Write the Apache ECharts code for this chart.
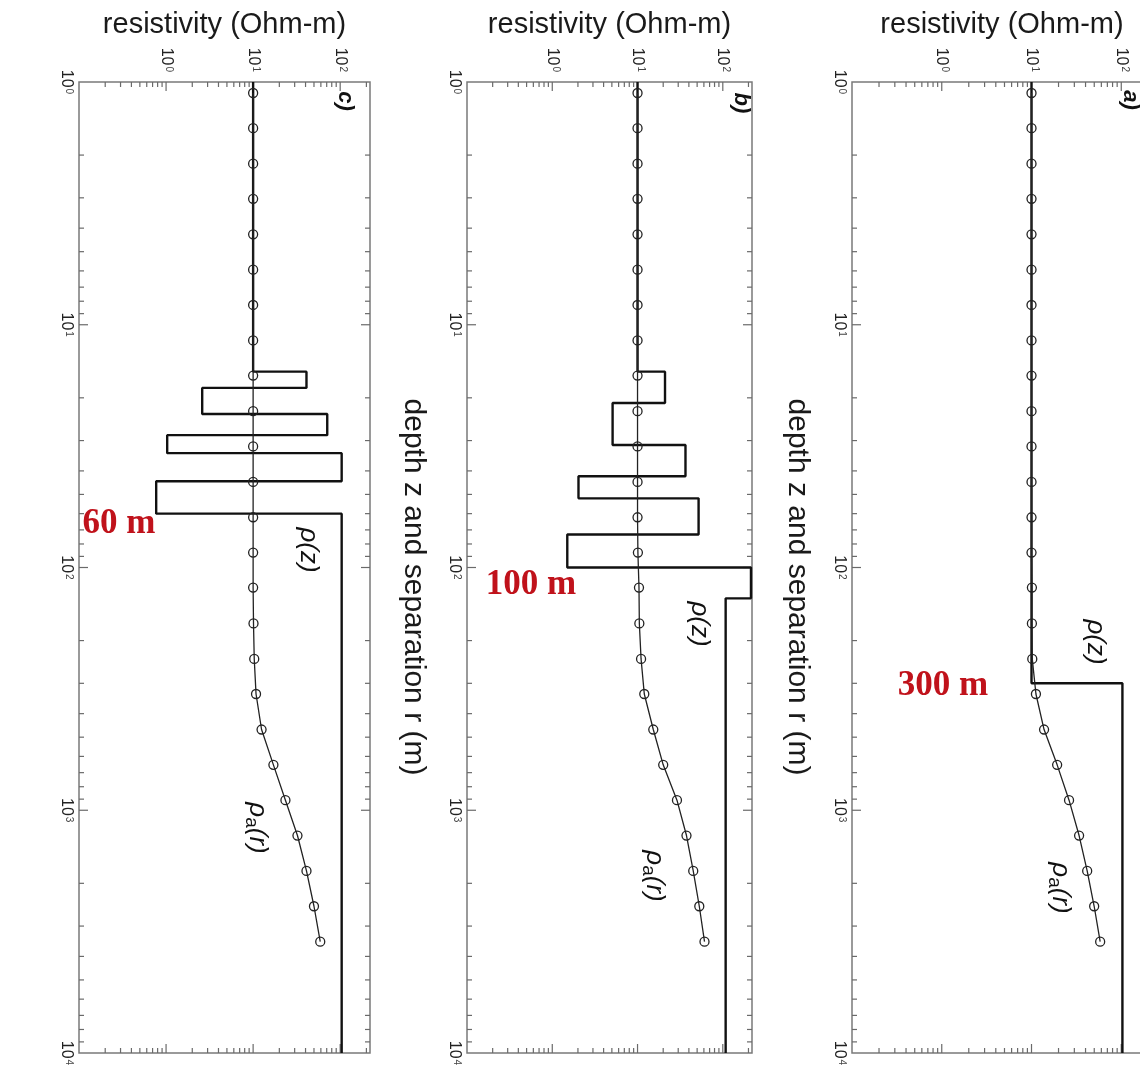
<!DOCTYPE html>
<html>
<head>
<meta charset="utf-8">
<script src="https://cdn.jsdelivr.net/npm/echarts@6/dist/echarts.min.js"></script>
<style>
html, body { margin: 0; padding: 0; background: #fff; }
#chart { width: 1140px; height: 1068px; }
</style>
</head>
<body>
<div id="chart"></div>
<script>
// 电极间距 r (m)，三幅图共用
const separations = [1.11, 1.55, 2.17, 3.03, 4.24, 5.93, 8.29, 11.6, 16.2, 22.7, 31.7, 44.4,
  62.1, 86.8, 121, 170, 238, 332, 465, 650, 909, 1271, 1778, 2486, 3477];

// 视电阻率 rho_a(r)
const rhoAppC = [10, 10, 10, 10, 10, 10, 10, 10, 10, 10, 10, 10, 10, 10, 10, 10.1, 10.3, 10.8,
  12.5, 17.1, 23.5, 32.3, 41, 50, 59];
const rhoAppB = [10, 10, 10, 10, 10, 10, 10, 10, 10, 10, 10, 10, 10, 10.1, 10.4, 10.5, 11, 12,
  15.3, 20, 29, 37.5, 45, 53, 61];
const rhoAppA = [10, 10, 10, 10, 10, 10, 10, 10, 10, 10, 10, 10, 10, 10, 10.1, 10.1, 10.2, 11.2,
  13.8, 19.3, 26.2, 33.9, 41.7, 49.9, 58.2];

// 模型 rho(z)：层界深度 + 各层电阻率（最后一个为半空间）
const layerDepthC = [15.6, 18.2, 23.3, 28.5, 33.8, 44.1, 60];
const layerRhoC = [10, 41, 2.6, 71, 1.03, 104, 0.77, 104];
const layerDepthB = [15.6, 21.0, 31.3, 42.1, 51.9, 73.1, 100, 134];
const layerRhoB = [10, 21, 5.1, 36.5, 2.03, 52, 1.5, 214, 108];
const layerDepthA = [300];
const layerRhoA = [10, 103];

// 坐标轴范围与刻度
const depthRange = [1, 10000];
const rhoRange = [0.1, 220];
const majorRho = [1, 10, 100];
const majorDepth = [10, 100, 1000];
const minorMantissa = [2, 3, 4, 5, 6, 7, 8, 9];
const rhoDecades = [0.1, 1, 10, 100];
const depthDecades = [1, 10, 100, 1000];

const panels = [
  { name: 'c)', app: rhoAppC, depths: layerDepthC, rhos: layerRhoC, grid: { left: 79, top: 82, width: 291, height: 971 },
    mark: '60 m', markPos: [119, 524], rhoLbl: [308, 550], appLbl: [257, 828], tagPos: [345, 101], depthTitle: null },
  { name: 'b)', app: rhoAppB, depths: layerDepthB, rhos: layerRhoB, grid: { left: 467, top: 82, width: 285, height: 971 },
    mark: '100 m', markPos: [531, 585], rhoLbl: [699, 624], appLbl: [654, 876], tagPos: [741, 103], depthTitle: [413, 587] },
  { name: 'a)', app: rhoAppA, depths: layerDepthA, rhos: layerRhoA, grid: { left: 852, top: 82, width: 300, height: 971 },
    mark: '300 m', markPos: [943, 686], rhoLbl: [1095, 642], appLbl: [1060, 888], tagPos: [1130, 100], depthTitle: [797, 587] }
];

// 阶梯状模型曲线
function stairs(depths, rhos) {
  const pts = [[rhos[0], depthRange[0]]];
  depths.forEach((d, i) => {
    pts.push([rhos[i], d]);
    pts.push([rhos[i + 1], d]);
  });
  pts.push([rhos[rhos.length - 1], depthRange[1]]);
  return pts;
}

function tickValues(decades, majors, maxV) {
  const out = majors.map(v => [v, 1]);
  decades.forEach(d => minorMantissa.forEach(m => {
    const v = +(d * m).toPrecision(3);
    if (v < maxV) out.push([v, 0]);
  }));
  return out;
}

// 四边内向刻度
function tickRenderer(dir) {
  return function (params, api) {
    const cs = params.coordSys;
    const len = api.value(2) === 1 ? 9 : 5;
    const p = api.coord([api.value(0), api.value(1)]);
    let segs;
    if (dir === 'x') {
      segs = [[p[0], cs.y, p[0], cs.y + len], [p[0], cs.y + cs.height, p[0], cs.y + cs.height - len]];
    } else {
      segs = [[cs.x, p[1], cs.x + len, p[1]], [cs.x + cs.width, p[1], cs.x + cs.width - len, p[1]]];
    }
    return {
      type: 'group',
      children: segs.map(s => ({
        type: 'line',
        shape: { x1: s[0], y1: s[1], x2: s[2], y2: s[3] },
        style: { stroke: '#6a6a6a', lineWidth: 1.2 }
      }))
    };
  };
}

// 10 的上标：上标抬到 "10" 之上
const supRich = {
  b: { fontSize: 16, color: '#222', fontFamily: 'Liberation Sans', lineHeight: 16, padding: [8, 0, 8, 0] },
  s: { fontSize: 10, color: '#444', fontFamily: 'Liberation Sans', verticalAlign: 'top', lineHeight: 10, padding: [0, 0, 0, 1] }
};
const powLabel = v => '{b|10}{s|' + Math.round(Math.log10(v)) + '}';
// 只在整十次幂处标注
const powLabelX = v => {
  const e = Math.log10(v);
  const r = Math.round(e);
  return (Math.abs(e - r) > 0.01 || r < 0) ? '' : powLabel(v);
};

const grids = [], xAxes = [], yAxes = [], series = [], graphics = [];

panels.forEach((p, i) => {
  grids.push(Object.assign({ show: true, borderColor: '#7a7a7a', borderWidth: 1.5, backgroundColor: '#fff', outerBoundsMode: 'none' }, p.grid));
  xAxes.push({
    gridIndex: i, type: 'log', position: 'top', min: rhoRange[0], max: rhoRange[1],
    name: 'resistivity (Ohm-m)', nameLocation: 'middle', nameGap: 42,
    nameTextStyle: { fontSize: 29, color: '#1a1a1a', fontFamily: 'Liberation Sans' },
    axisLine: { show: false }, axisTick: { show: false }, splitLine: { show: false },
    axisLabel: { rotate: 90, margin: 10, showMaxLabel: false, formatter: powLabelX, rich: supRich }
  });
  yAxes.push({
    gridIndex: i, type: 'log', inverse: true, min: depthRange[0], max: depthRange[1],
    axisLine: { show: false }, axisTick: { show: false }, splitLine: { show: false },
    axisLabel: { rotate: -90, margin: 5, showMinLabel: true, showMaxLabel: true, formatter: powLabel, rich: supRich }
  });

  series.push({
    type: 'custom', xAxisIndex: i, yAxisIndex: i, renderItem: tickRenderer('x'), silent: true,
    encode: { x: 0, y: 1 },
    data: tickValues(rhoDecades, majorRho, rhoRange[1]).map(t => [t[0], depthRange[0], t[1]])
  });
  series.push({
    type: 'custom', xAxisIndex: i, yAxisIndex: i, renderItem: tickRenderer('y'), silent: true,
    encode: { x: 0, y: 1 },
    data: tickValues(depthDecades, majorDepth, depthRange[1]).map(t => [1, t[0], t[1]])
  });
  series.push({
    type: 'line', xAxisIndex: i, yAxisIndex: i, symbol: 'none', silent: true,
    lineStyle: { color: '#111', width: 2.4 },
    data: stairs(p.depths, p.rhos)
  });
  series.push({
    type: 'line', xAxisIndex: i, yAxisIndex: i, symbol: 'circle', symbolSize: 9, silent: true,
    lineStyle: { color: '#222', width: 1.3 },
    itemStyle: { color: 'rgba(0,0,0,0)', borderColor: '#222', borderWidth: 1.3 },
    data: p.app.map((v, k) => [v, separations[k]])
  });

  const rot = -Math.PI / 2;
  graphics.push({
    type: 'text', x: p.markPos[0], y: p.markPos[1],
    style: { text: p.mark, fill: '#c0121b', font: 'bold 35px "Liberation Serif"', textAlign: 'center', textVerticalAlign: 'middle' }
  });
  graphics.push({
    type: 'text', x: p.rhoLbl[0], y: p.rhoLbl[1], rotation: rot,
    style: { text: 'ρ(z)', fill: '#111', font: 'italic 26px "Liberation Sans"', textAlign: 'center', textVerticalAlign: 'middle' }
  });
  graphics.push({
    type: 'text', x: p.appLbl[0], y: p.appLbl[1], rotation: rot,
    style: {
      text: '{r|ρ}{s|a}{r|(r)}', textAlign: 'center', textVerticalAlign: 'middle',
      rich: {
        r: { fontSize: 26, fontStyle: 'italic', fontFamily: 'Liberation Sans', fill: '#111', lineHeight: 30 },
        s: { fontSize: 19, fontFamily: 'Liberation Sans', fill: '#111', verticalAlign: 'bottom', lineHeight: 30, padding: [10, 0, 0, 0] }
      }
    }
  });
  graphics.push({
    type: 'text', x: p.tagPos[0], y: p.tagPos[1], rotation: rot,
    style: { text: p.name, fill: '#111', font: 'italic bold 22px "Liberation Sans"', textAlign: 'center', textVerticalAlign: 'middle' }
  });
  if (p.depthTitle) {
    graphics.push({
      type: 'text', x: p.depthTitle[0], y: p.depthTitle[1], rotation: rot,
      style: { text: 'depth z and separation r (m)', fill: '#1a1a1a', font: '30px "Liberation Sans"', textAlign: 'center', textVerticalAlign: 'middle' }
    });
  }
});

const chart = echarts.init(document.getElementById('chart'));
chart.setOption({
  backgroundColor: '#fff',
  animation: false,
  grid: grids,
  xAxis: xAxes,
  yAxis: yAxes,
  series: series,
  graphic: graphics
});
window.addEventListener('resize', () => chart.resize());
</script>
</body>
</html>
